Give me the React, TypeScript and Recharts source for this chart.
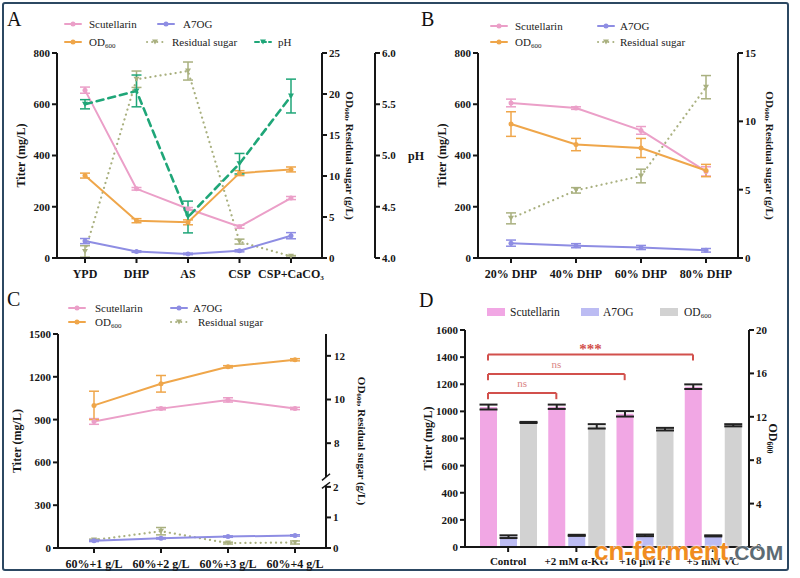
import React from "react";
import {
  LineChart,
  Line,
  BarChart,
  Bar,
  XAxis,
  YAxis,
  ErrorBar,
  ReferenceLine,
} from "recharts";

const SERIF = '"Liberation Serif", "Times New Roman", serif';
const INK = "#161616";
const PINK = "#eb9fc8";
const PURPLE = "#8e8de3";
const ORANGE = "#efa64a";
const OLIVE = "#a9b07f";
const GREEN = "#1fa678";
const RED = "#d2504c";
const BAR_PINK = "#f1a7e4";
const BAR_PURPLE = "#bcbcf3";
const BAR_GRAY = "#d2d2d2";

// A: carbon sources
const mediaA = ["YPD", "DHP", "AS", "CSP", "CSP+CaCO₃"];
const scutA = [655, 270, 192, 122, 234];
const scutErrA = [12, 5, 5, 6, 6];
const a7ogA = [66, 25, 16, 28, 87];
const a7ogErrA = [10, 3, 3, 4, 12];
const odA = [10.05, 4.55, 4.35, 10.35, 10.8];
const odErrA = [0.3, 0.25, 0.3, 0.3, 0.3];
const sugarA = [0.8, 21.8, 22.8, 2.0, 0.2];
const sugarErrA = [0.7, 1.0, 1.1, 0.3, 0.1];
const phA = [5.5, 5.63, 4.4, 4.92, 5.58];
const phErrA = [0.045, 0.155, 0.155, 0.1, 0.165];

// B: DHP ratio
const mediaB = ["20% DHP", "40% DHP", "60% DHP", "80% DHP"];
const scutB = [605, 585, 498, 338];
const scutErrB = [15, 5, 15, 18];
const a7ogB = [58, 48, 41, 30];
const a7ogErrB = [12, 8, 8, 7];
const odB = [9.8, 8.3, 8.05, 6.4];
const odErrB = [0.9, 0.45, 0.7, 0.45];
const sugarB = [2.9, 4.95, 6.0, 12.5];
const sugarErrB = [0.4, 0.2, 0.5, 0.85];

// C: 60% DHP plus extra nitrogen
const mediaC = ["60%+1 g/L", "60%+2 g/L", "60%+3 g/L", "60%+4 g/L"];
const scutC = [887, 977, 1038, 978];
const scutErrC = [20, 8, 15, 8];
const a7ogC = [50, 68, 80, 88];
const a7ogErrC = [5, 5, 5, 5];
const odC = [9.73, 10.72, 11.5, 11.82];
const odErrC = [0.65, 0.38, 0.05, 0.05];
const sugarC = [0.26, 0.55, 0.16, 0.18];
const sugarErrC = [0.03, 0.12, 0.03, 0.05];
const odTicksC = [8, 10, 12];

// D: additives
const mediaD = ["Control", "+2 mM α-KG", "+16 μM Fe", "+5 mM VC"];
const scutD = [1032, 1034, 982, 1182];
const scutErrD = [18, 16, 20, 17];
const a7ogD = [76, 86, 86, 82];
const a7ogErrD = [10, 4, 6, 4];
const odD = [11.48, 11.12, 10.86, 11.22];
const odErrD = [0.05, 0.2, 0.12, 0.1];
const bracketTo = [1, 2, 3];
const bracketLevel = [1135, 1275, 1420];
const bracketMark = ["ns", "ns", "***"];

const rowsA = mediaA.map((name, i) => ({
  name,
  scut: scutA[i], scutErr: scutErrA[i],
  a7og: a7ogA[i], a7ogErr: a7ogErrA[i],
  od: odA[i], odErr: odErrA[i],
  sugar: sugarA[i], sugarErr: sugarErrA[i],
  ph: phA[i], phErr: phErrA[i],
}));
const rowsB = mediaB.map((name, i) => ({
  name,
  scut: scutB[i], scutErr: scutErrB[i],
  a7og: a7ogB[i], a7ogErr: a7ogErrB[i],
  od: odB[i], odErr: odErrB[i],
  sugar: sugarB[i], sugarErr: sugarErrB[i],
}));
const rowsC = mediaC.map((name, i) => ({
  name,
  scut: scutC[i], scutErr: scutErrC[i],
  a7og: a7ogC[i], a7ogErr: a7ogErrC[i],
  od: odC[i], odErr: odErrC[i],
  sugar: sugarC[i], sugarErr: sugarErrC[i],
}));
const rowsD = mediaD.map((name, i) => ({
  name,
  scut: scutD[i], scutErr: scutErrD[i],
  a7og: a7ogD[i], a7ogErr: a7ogErrD[i],
  od: odD[i], odErr: odErrD[i],
}));

const axisLine = { stroke: INK, strokeWidth: 2 };
const tickLine = { stroke: INK, strokeWidth: 2 };
const yTick = { fontSize: 11, fontWeight: 700, fill: INK, fontFamily: SERIF };
const xTick = { fontSize: 12, fontWeight: 700, fill: INK, fontFamily: SERIF };

// rotated axis title, placed relative to the axis box
function AxisTitle(props: any) {
  const { viewBox, caption, shift, turn = -90, size = 12 } = props;
  const cx = viewBox.x + shift;
  const cy = viewBox.y + viewBox.height / 2;
  return (
    <text
      x={cx}
      y={cy}
      transform={`rotate(${turn} ${cx} ${cy})`}
      textAnchor="middle"
      dominantBaseline="central"
      fontFamily={SERIF}
      fontWeight={700}
      fontSize={size}
      fill={INK}
    >
      {caption}
    </text>
  );
}

function PhTitle(props: any) {
  const { viewBox } = props;
  return (
    <text
      x={viewBox.x + 33}
      y={viewBox.y + viewBox.height / 2}
      dominantBaseline="central"
      fontFamily={SERIF}
      fontWeight={700}
      fontSize={12}
      fill={INK}
    >
      pH
    </text>
  );
}

const odSugarTitle = (
  <>
    <tspan>OD</tspan>
    <tspan dy={3} fontSize={7}>600</tspan>
    <tspan dy={-3}>, Residual sugar (g/L)</tspan>
  </>
);
const odTitle = (
  <>
    <tspan>OD</tspan>
    <tspan dy={3} fontSize={8}>600</tspan>
  </>
);

function Tri(props: any) {
  const { cx, cy, fill } = props;
  if (cx == null || cy == null) return null;
  return <path d={`M${cx - 3},${cy - 2.5}L${cx + 3},${cy - 2.5}L${cx},${cy + 2.5}Z`} fill={fill} />;
}

// one series with its error bars
function trace(
  key: string,
  axis: string,
  color: string,
  opts: { dash?: string; width?: number; tri?: boolean; cap?: number } = {}
) {
  return (
    <Line
      key={key}
      yAxisId={axis}
      dataKey={key}
      stroke={color}
      strokeWidth={opts.width ?? 2}
      strokeDasharray={opts.dash}
      strokeLinecap="round"
      dot={
        opts.tri
          ? (p: any) => <Tri key={`${key}-${p.index}`} cx={p.cx} cy={p.cy} fill={color} />
          : { r: 2.5, fill: color, stroke: color, strokeWidth: 0 }
      }
      activeDot={false}
      isAnimationActive={false}
    >
      <ErrorBar dataKey={`${key}Err`} width={opts.cap ?? 5} stroke={color} strokeWidth={1.5} />
    </Line>
  );
}

function LineKey(props: any) {
  const { x, tx, y, color, dash, tri, children } = props;
  return (
    <>
      <svg style={{ position: "absolute", left: x, top: y - 5 }} width={18} height={10}>
        <line x1={1} y1={5} x2={17} y2={5} stroke={color} strokeWidth={2} strokeDasharray={dash} strokeLinecap="round" />
        {tri ? (
          <path d="M6,2.5L12,2.5L9,7.5Z" fill={color} />
        ) : (
          <circle cx={9} cy={5} r={2.5} fill={color} />
        )}
      </svg>
      <div style={{ position: "absolute", left: tx, top: y - 8, lineHeight: "16px", fontSize: 11, color: "#222", whiteSpace: "nowrap" }}>
        {children}
      </div>
    </>
  );
}

function BoxKey(props: any) {
  const { x, tx, y, color, children } = props;
  return (
    <>
      <div style={{ position: "absolute", left: x, top: y - 4, width: 18, height: 8, background: color }} />
      <div style={{ position: "absolute", left: tx, top: y - 8, lineHeight: "16px", fontSize: 11.5, color: "#222", whiteSpace: "nowrap" }}>
        {children}
      </div>
    </>
  );
}

const OD600 = (
  <span>
    OD<sub style={{ fontSize: 7, verticalAlign: "-2px" }}>600</sub>
  </span>
);

function Letter(props: any) {
  return (
    <div style={{ position: "absolute", left: props.x, top: props.y, fontSize: 20, lineHeight: "20px", color: "#111" }}>
      {props.children}
    </div>
  );
}

const sugarDash = "0.1 5";
const phDash = "7 5";

export default function App() {
  return (
    <div
      style={{
        position: "absolute",
        left: 0,
        top: 0,
        width: 800,
        height: 578,
        background: "#fff",
        fontFamily: SERIF,
        overflow: "hidden",
      }}
    >
      <div
        style={{
          position: "absolute",
          left: 2,
          top: 2,
          width: 783,
          height: 565,
          border: "2px solid #2c4862",
          borderRadius: 3,
        }}
      />

      {/* A */}
      <Letter x={7} y={9}>A</Letter>
      <LineKey x={64} tx={89} y={24} color={PINK}>Scutellarin</LineKey>
      <LineKey x={157} tx={183} y={24} color={PURPLE}>A7OG</LineKey>
      <LineKey x={64} tx={89} y={42} color={ORANGE}>{OD600}</LineKey>
      <LineKey x={146} tx={172} y={42} color={OLIVE} dash={sugarDash} tri>Residual sugar</LineKey>
      <LineKey x={254} tx={278} y={42} color={GREEN} dash="4 3" tri>pH</LineKey>
      <div style={{ position: "absolute", left: 0, top: 0 }}>
        <LineChart width={430} height={290} data={rowsA} margin={{ top: 53, right: 0, bottom: 0, left: 0 }}>
          <XAxis dataKey="name" padding={{ left: 28, right: 31 }} height={32} axisLine={axisLine} tickLine={tickLine} tickSize={5} tickMargin={6} tick={xTick} interval={0} />
          <YAxis yAxisId="titer" width={57} domain={[0, 800]} ticks={[0, 200, 400, 600, 800]} axisLine={axisLine} tickLine={tickLine} tickSize={5} tick={yTick}
            label={<AxisTitle caption="Titer (mg/L)" shift={21} />} />
          <YAxis yAxisId="od" orientation="right" width={53} domain={[0, 25]} ticks={[0, 5, 10, 15, 20, 25]} axisLine={axisLine} tickLine={tickLine} tickSize={5} tick={yTick}
            label={<AxisTitle caption={odSugarTitle} shift={28} turn={90} size={11} />} />
          <YAxis yAxisId="ph" orientation="right" width={55} domain={[4, 6]} ticks={[4, 4.5, 5, 5.5, 6]} tickFormatter={(v: number) => v.toFixed(1)}
            axisLine={axisLine} tickLine={tickLine} tickSize={5} tick={yTick} label={<PhTitle />} />
          {trace("sugar", "od", OLIVE, { dash: sugarDash, width: 2.2, tri: true })}
          {trace("scut", "titer", PINK)}
          {trace("a7og", "titer", PURPLE)}
          {trace("od", "od", ORANGE)}
          {trace("ph", "ph", GREEN, { dash: phDash, width: 2.6, tri: true })}
        </LineChart>
      </div>

      {/* B */}
      <Letter x={421} y={9}>B</Letter>
      <LineKey x={490} tx={515} y={26} color={PINK}>Scutellarin</LineKey>
      <LineKey x={597} tx={620} y={26} color={PURPLE}>A7OG</LineKey>
      <LineKey x={490} tx={515} y={42} color={ORANGE}>{OD600}</LineKey>
      <LineKey x={597} tx={620} y={42} color={OLIVE} dash={sugarDash} tri>Residual sugar</LineKey>
      <div style={{ position: "absolute", left: 400, top: 0 }}>
        <LineChart width={400} height={290} data={rowsB} margin={{ top: 53, right: 0, bottom: 0, left: 33 }}>
          <XAxis dataKey="name" padding={{ left: 33, right: 32 }} height={32} axisLine={axisLine} tickLine={tickLine} tickSize={5} tickMargin={6} tick={xTick} interval={0} />
          <YAxis yAxisId="titer" width={45} domain={[0, 800]} ticks={[0, 200, 400, 600, 800]} axisLine={axisLine} tickLine={tickLine} tickSize={5} tick={yTick}
            label={<AxisTitle caption="Titer (mg/L)" shift={9} />} />
          <YAxis yAxisId="od" orientation="right" width={62} domain={[0, 15]} ticks={[0, 5, 10, 15]} axisLine={axisLine} tickLine={tickLine} tickSize={5} tick={yTick}
            label={<AxisTitle caption={odSugarTitle} shift={32} turn={90} size={11} />} />
          {trace("sugar", "od", OLIVE, { dash: sugarDash, width: 2.2, tri: true })}
          {trace("a7og", "titer", PURPLE)}
          {trace("scut", "titer", PINK)}
          {trace("od", "od", ORANGE)}
        </LineChart>
      </div>

      {/* C */}
      <Letter x={7} y={289}>C</Letter>
      <LineKey x={68} tx={95} y={308} color={PINK}>Scutellarin</LineKey>
      <LineKey x={170} tx={193} y={308} color={PURPLE}>A7OG</LineKey>
      <LineKey x={68} tx={95} y={322} color={ORANGE}>{OD600}</LineKey>
      <LineKey x={170} tx={198} y={322} color={OLIVE} dash={sugarDash} tri>Residual sugar</LineKey>
      <div style={{ position: "absolute", left: 0, top: 285 }}>
        <LineChart width={400} height={293} data={rowsC} margin={{ top: 49, right: 0, bottom: 0, left: 0 }}>
          <XAxis dataKey="name" padding={{ left: 36, right: 31 }} height={30} axisLine={axisLine} tickLine={tickLine} tickSize={5} tickMargin={6} tick={xTick} interval={0} />
          {/* plain 0..3 axis spanning the plot, used to place the broken right axis */}
          <XAxis xAxisId="edge" type="number" domain={[0, 3]} hide allowDataOverflow />
          <YAxis yAxisId="titer" width={58} domain={[0, 1500]} ticks={[0, 300, 600, 900, 1200, 1500]} axisLine={axisLine} tickLine={tickLine} tickSize={5} tick={yTick}
            label={<AxisTitle caption="Titer (mg/L)" shift={17} />} />
          {/* broken right axis: OD600 on the upper part, residual sugar on the lower part */}
          <YAxis yAxisId="od" orientation="right" width={0} domain={[3.2, 13]} allowDataOverflow hide />
          <YAxis yAxisId="sugar" orientation="right" width={74} domain={[0, 7]} ticks={[0, 1, 2]} allowDataOverflow axisLine={false} tickLine={tickLine} tickSize={5} tick={yTick}
            label={<AxisTitle caption={odSugarTitle} shift={36} turn={90} size={11} />} />
          <ReferenceLine xAxisId="edge" yAxisId="od" segment={[{ x: 3, y: 13 }, { x: 3, y: 6.45 }]} stroke={INK} strokeWidth={2} ifOverflow="visible" />
          <ReferenceLine xAxisId="edge" yAxisId="od" segment={[{ x: 2.955, y: 6.3 }, { x: 3.045, y: 6.6 }]} stroke={INK} strokeWidth={1.5} ifOverflow="visible" />
          {odTicksC.map((t) => (
            <ReferenceLine key={`odt${t}`} xAxisId="edge" yAxisId="od" segment={[{ x: 3, y: t }, { x: 3.056, y: t }]} stroke={INK} strokeWidth={2} ifOverflow="visible"
              label={{ value: t, position: "right", offset: 3, fill: INK, fontSize: 11, fontWeight: 700, fontFamily: SERIF }} />
          ))}
          <ReferenceLine xAxisId="edge" yAxisId="sugar" segment={[{ x: 3, y: 0 }, { x: 3, y: 2.05 }]} stroke={INK} strokeWidth={2} ifOverflow="visible" />
          <ReferenceLine xAxisId="edge" yAxisId="sugar" segment={[{ x: 2.955, y: 1.95 }, { x: 3.045, y: 2.15 }]} stroke={INK} strokeWidth={1.5} ifOverflow="visible" />
          {trace("sugar", "sugar", OLIVE, { dash: sugarDash, width: 2.2, tri: true })}
          {trace("a7og", "titer", PURPLE)}
          {trace("scut", "titer", PINK)}
          {trace("od", "od", ORANGE)}
        </LineChart>
      </div>

      {/* D */}
      <Letter x={419} y={290}>D</Letter>
      <BoxKey x={487} tx={510} y={312} color={BAR_PINK}>Scutellarin</BoxKey>
      <BoxKey x={581} tx={603} y={312} color={BAR_PURPLE}>A7OG</BoxKey>
      <BoxKey x={660} tx={684} y={312} color={BAR_GRAY}>{OD600}</BoxKey>
      <div style={{ position: "absolute", left: 400, top: 285 }}>
        <BarChart width={400} height={293} data={rowsD} margin={{ top: 45, right: 0, bottom: 0, left: 0 }} barSize={17} barGap={3}>
          <XAxis dataKey="name" padding={{ left: 9, right: 2 }} height={31} axisLine={axisLine} tickLine={tickLine} tickSize={5} tickMargin={5}
            tick={{ ...xTick, fontSize: 11 }} interval={0} />
          {/* 0..3 axis whose ends sit on the first and last Scutellarin bar centres */}
          <XAxis xAxisId="pos" type="number" domain={[0, 3]} padding={{ left: 23, right: 56 }} hide allowDataOverflow />
          <YAxis yAxisId="titer" width={65} domain={[0, 1600]} ticks={[0, 200, 400, 600, 800, 1000, 1200, 1400, 1600]} axisLine={axisLine} tickLine={tickLine} tickSize={5} tick={yTick}
            label={<AxisTitle caption="Titer (mg/L)" shift={28} />} />
          <YAxis yAxisId="od" orientation="right" width={51} domain={[0, 20]} ticks={[0, 4, 8, 12, 16, 20]} axisLine={axisLine} tickLine={tickLine} tickSize={5} tick={yTick}
            label={<AxisTitle caption={odTitle} shift={24} turn={90} />} />
          <Bar yAxisId="titer" dataKey="scut" fill={BAR_PINK} isAnimationActive={false}>
            <ErrorBar dataKey="scutErr" width={9} stroke="#222" strokeWidth={2} />
          </Bar>
          <Bar yAxisId="titer" dataKey="a7og" fill={BAR_PURPLE} isAnimationActive={false}>
            <ErrorBar dataKey="a7ogErr" width={9} stroke="#222" strokeWidth={2} />
          </Bar>
          <Bar yAxisId="od" dataKey="od" fill={BAR_GRAY} isAnimationActive={false}>
            <ErrorBar dataKey="odErr" width={9} stroke="#222" strokeWidth={2} />
          </Bar>
          {bracketTo.map((to, k) => {
            const h = bracketLevel[k];
            const stars = bracketMark[k] !== "ns";
            return [
              <ReferenceLine key={`h${k}`} xAxisId="pos" yAxisId="titer" segment={[{ x: 0, y: h }, { x: to, y: h }]} stroke={RED} strokeWidth={2} ifOverflow="visible"
                label={{ value: bracketMark[k], position: "top", offset: stars ? 0 : 6, fill: stars ? RED : "#d98484", fontSize: stars ? 15 : 11, fontFamily: SERIF, fontWeight: stars ? 700 : 400 }} />,
              <ReferenceLine key={`l${k}`} xAxisId="pos" yAxisId="titer" segment={[{ x: 0, y: h }, { x: 0, y: h - 45 }]} stroke={RED} strokeWidth={2} ifOverflow="visible" />,
              <ReferenceLine key={`r${k}`} xAxisId="pos" yAxisId="titer" segment={[{ x: to, y: h }, { x: to, y: h - 45 }]} stroke={RED} strokeWidth={2} ifOverflow="visible" />,
            ];
          })}
        </BarChart>
      </div>

      <div
        style={{
          position: "absolute",
          left: 594,
          top: 538,
          display: "flex",
          alignItems: "baseline",
          fontFamily: '"Liberation Sans", Arial, sans-serif',
          fontWeight: 700,
          lineHeight: 1,
          textShadow: "0 0 2px #fff, 0 0 2px #fff, 0 0 1px #fff",
          whiteSpace: "nowrap",
        }}
      >
        <span style={{ fontSize: 26, color: "#f08c20" }}>cn-ferment</span>
        <span style={{ fontSize: 21, color: "#5c6b74" }}>.COM</span>
      </div>
    </div>
  );
}
